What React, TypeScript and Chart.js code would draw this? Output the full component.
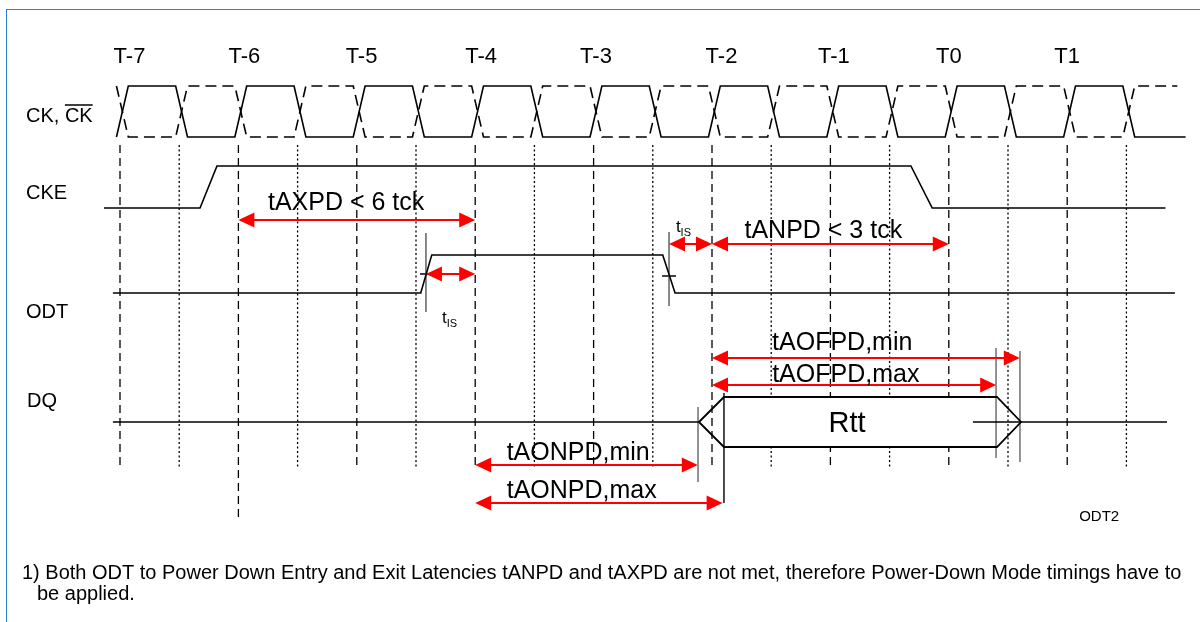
import React, { useEffect, useRef } from "react";
import { Chart, registerables } from "chart.js";

Chart.register(...registerables);

const FONT = "'Liberation Sans', Arial, Helvetica, sans-serif";
const RED = "#ff0000";

// ---------- data (time axis in clock cycles, T-7 = 0) ----------
const clockNames = ["T-7", "T-6", "T-5", "T-4", "T-3", "T-2", "T-1", "T0", "T1"];
const clockTimes = [0, 1, 2, 3, 4, 5, 6, 7, 8];
const clockNameTimes = [0.08, 1.05, 2.04, 3.05, 4.02, 5.08, 6.03, 7.0, 8.0];
const clockLineEnds = [468, 518, 468, 468, 468, 468, 468, 468, 468];
const halfTimes = [0.5, 1.5, 2.5, 3.5, 4.5, 5.5, 6.5, 7.5, 8.5];
const clockEdgeTimes = [0, 0.5, 1, 1.5, 2, 2.5, 3, 3.5, 4, 4.5, 5, 5.5, 6, 6.5, 7, 7.5, 8, 8.5];
const clockBeginTime = -0.03;
const ckEndTime = 9.0;
const ckBarEndTime = 8.93;

const ckeTimes = [-0.135, 0.676, 0.819, 6.68, 6.86, 8.83];
const ckeLevels = [0, 0, 1, 1, 0, 0];
const odtTimes = [-0.06, 2.54, 2.633, 4.584, 4.688, 8.91];
const odtLevels = [0, 0, 1, 1, 0, 0];
const dqHeadTimes = [-0.06, 4.89];
const rttTimes = [4.89, 5.101, 7.407, 7.61];
const dqTailTimes = [7.204, 8.843];

const signalNames = ["CK, ", "CKE", "ODT", "DQ"];
const signalBarName = "CK";

const arrowNames = ["tAXPD < 6 tck", "tANPD < 3 tck", "tAOFPD,min", "tAOFPD,max", "tAONPD,min", "tAONPD,max"];
const arrowStarts = [1, 5, 5, 5, 3, 3];
const arrowEnds = [3, 7, 7.6, 7.4, 4.88, 5.09];
const arrowNameTimes = [1.91, 5.94, 6.1, 6.13, 3.87, 3.9];

const tisStarts = [2.584, 4.637];
const tisEnds = [3, 5];
const tisNameTimes = [2.72, 4.695];

const markerTimes = [2.584, 4.637, 4.882, 5.101, 7.399, 7.601];
const tickMarkStarts = [2.534, 4.578];
const tickMarkEnds = [2.644, 4.696];

const rttName = "Rtt";
const rttNameTime = 6.14;
const figureId = "ODT2";
const figureIdTime = 8.27;
const noteLines = [
  "1) Both ODT to Power Down Entry and Exit Latencies tANPD and tAXPD are not met, therefore Power-Down Mode timings have to",
  "be applied.",
];
const noteTimes = [-0.828, -0.701];

// ---------- layout (rows on the vertical scale) ----------
const CK_HI = 86, CK_LO = 137;
const CKE_HI = 166, CKE_LO = 208;
const ODT_HI = 255, ODT_LO = 293;
const DQ_MID = 422, DQ_HALF = 25;
const GRID_TOP = 145;
const EDGE_PRE = -0.03, EDGE_POST = 0.07;
const arrowRows = [220, 244, 358, 385, 465, 503];
const arrowNameRows = [203, 231, 343, 375, 453, 491];
const tisRows = [274, 244];
const tisNameRows = [323, 232];
const markerTops = [233, 232, 407, 393, 348, 351];
const markerBottoms = [312, 306, 482, 503, 458, 462];
const markerColors = ["#555", "#555", "#666", "#000", "#666", "#666"];
const tickMarkRows = [274, 276];
const signalNameTime = -0.794;
const signalNameRows = [116, 193, 312, 401];
const X_MIN = -120 / 118.4;
const X_MAX = 1080 / 118.4;

function clockPoints(startLevel: number, endTime: number) {
  const row = (l: number) => (l ? CK_HI : CK_LO);
  const pts: { x: number; y: number }[] = [{ x: clockBeginTime, y: row(startLevel) }];
  let lvl = startLevel;
  clockEdgeTimes.forEach((e) => {
    pts.push({ x: e + EDGE_PRE, y: row(lvl) });
    lvl = 1 - lvl;
    pts.push({ x: e + EDGE_POST, y: row(lvl) });
  });
  pts.push({ x: endTime, y: row(lvl) });
  return pts;
}

function levelPoints(times: number[], levels: number[], hi: number, lo: number) {
  return times.map((t, i) => ({ x: t, y: levels[i] ? hi : lo }));
}

function line(data: any[], color: string, width: number, dash: number[] = [], order = 0, extra: any = {}) {
  return {
    data,
    borderColor: color,
    borderWidth: width,
    borderDash: dash,
    pointRadius: 0,
    tension: 0,
    fill: false,
    order,
    ...extra,
  };
}

function drawArrow(ctx: CanvasRenderingContext2D, a: number, b: number, yy: number) {
  const L = 16, H = 7.5;
  ctx.strokeStyle = RED;
  ctx.lineWidth = 2;
  ctx.beginPath();
  ctx.moveTo(a + 4, yy);
  ctx.lineTo(b - 4, yy);
  ctx.stroke();
  ctx.fillStyle = RED;
  ctx.beginPath();
  ctx.moveTo(a, yy);
  ctx.lineTo(a + L, yy - H);
  ctx.lineTo(a + L, yy + H);
  ctx.closePath();
  ctx.fill();
  ctx.beginPath();
  ctx.moveTo(b, yy);
  ctx.lineTo(b - L, yy - H);
  ctx.lineTo(b - L, yy + H);
  ctx.closePath();
  ctx.fill();
}

const annotPlugin = {
  id: "timingAnnotations",
  afterDatasetsDraw(chart: any) {
    const { ctx } = chart;
    const xs = chart.scales.x;
    const ys = chart.scales.y;
    const px = (v: number) => xs.getPixelForValue(v);
    const py = (v: number) => ys.getPixelForValue(v);
    ctx.save();

    // arrows
    arrowStarts.forEach((s, i) => drawArrow(ctx, px(s), px(arrowEnds[i]), py(arrowRows[i])));
    tisStarts.forEach((s, i) => drawArrow(ctx, px(s), px(tisEnds[i]), py(tisRows[i])));

    ctx.fillStyle = "#000";
    ctx.textBaseline = "middle";

    // clock names
    ctx.font = `22px ${FONT}`;
    ctx.textAlign = "center";
    clockNames.forEach((n, i) => ctx.fillText(n, px(clockNameTimes[i]), py(57)));

    // arrow names
    ctx.font = `25px ${FONT}`;
    arrowNames.forEach((n, i) => ctx.fillText(n, px(arrowNameTimes[i]), py(arrowNameRows[i])));

    // Rtt
    ctx.font = `29px ${FONT}`;
    ctx.fillText(rttName, px(rttNameTime), py(DQ_MID + 2));

    // figure id
    ctx.font = `15px ${FONT}`;
    ctx.fillText(figureId, px(figureIdTime), py(517));

    // tIS labels
    ctx.textAlign = "left";
    ctx.textBaseline = "alphabetic";
    tisNameTimes.forEach((t, i) => {
      const x0 = px(t);
      const y0 = py(tisNameRows[i]);
      ctx.font = `17px ${FONT}`;
      ctx.fillText("t", x0, y0);
      const w = ctx.measureText("t").width;
      ctx.font = `11px ${FONT}`;
      ctx.fillText("IS", x0 + w, y0 + 4);
    });

    // signal names
    ctx.textBaseline = "middle";
    ctx.font = `20px ${FONT}`;
    signalNames.forEach((n, i) => {
      const x0 = px(signalNameTime) + (i === 3 ? 1 : 0);
      const y0 = py(signalNameRows[i]);
      ctx.fillText(n, x0, y0);
      if (i === 0) {
        const w0 = ctx.measureText(n).width;
        ctx.fillText(signalBarName, x0 + w0, y0);
        const w1 = ctx.measureText(signalBarName).width;
        ctx.strokeStyle = "#000";
        ctx.lineWidth = 1.5;
        ctx.beginPath();
        ctx.moveTo(x0 + w0, y0 - 11);
        ctx.lineTo(x0 + w0 + w1, y0 - 11);
        ctx.stroke();
      }
    });

    // footnote
    ctx.font = `20px ${FONT}`;
    noteLines.forEach((n, i) => ctx.fillText(n, px(noteTimes[i]), py(573 + i * 21)));

    ctx.restore();
  },
};

export default function App() {
  const ref = useRef<HTMLCanvasElement | null>(null);

  useEffect(() => {
    if (!ref.current) return;
    const datasets: any[] = [];

    // clock grid lines
    clockTimes.forEach((t, i) => {
      datasets.push(line([{ x: t, y: GRID_TOP }, { x: t, y: clockLineEnds[i] }], "#000", 1.3, [8, 5], 10));
    });
    halfTimes.forEach((t) => {
      datasets.push(line([{ x: t, y: GRID_TOP }, { x: t, y: 468 }], "#000", 1.3, [2, 2.5], 10));
    });

    // Rtt white body (masks grid lines)
    datasets.push(
      line([{ x: rttTimes[1], y: DQ_MID - DQ_HALF }, { x: rttTimes[2], y: DQ_MID - DQ_HALF }], "rgba(0,0,0,0)", 0, [], 5, {
        fill: "+1",
        backgroundColor: "#ffffff",
      })
    );
    datasets.push(
      line([{ x: rttTimes[1], y: DQ_MID + DQ_HALF }, { x: rttTimes[2], y: DQ_MID + DQ_HALF }], "rgba(0,0,0,0)", 0, [], 5)
    );

    // clocks
    datasets.push(line(clockPoints(0, ckEndTime), "#000", 1.6));
    datasets.push(line(clockPoints(1, ckBarEndTime), "#000", 1.6, [11, 6]));

    // CKE, ODT
    datasets.push(line(levelPoints(ckeTimes, ckeLevels, CKE_HI, CKE_LO), "#000", 1.6));
    datasets.push(line(levelPoints(odtTimes, odtLevels, ODT_HI, ODT_LO), "#000", 1.6));

    // DQ
    datasets.push(line(dqHeadTimes.map((t) => ({ x: t, y: DQ_MID })), "#000", 1.6));
    datasets.push(
      line(
        [
          { x: rttTimes[0], y: DQ_MID },
          { x: rttTimes[1], y: DQ_MID - DQ_HALF },
          { x: rttTimes[2], y: DQ_MID - DQ_HALF },
          { x: rttTimes[3], y: DQ_MID },
          { x: rttTimes[2], y: DQ_MID + DQ_HALF },
          { x: rttTimes[1], y: DQ_MID + DQ_HALF },
          { x: rttTimes[0], y: DQ_MID },
        ],
        "#000",
        1.8
      )
    );
    datasets.push(line(dqTailTimes.map((t) => ({ x: t, y: DQ_MID })), "#000", 1.6));

    // markers
    markerTimes.forEach((t, i) => {
      datasets.push(line([{ x: t, y: markerTops[i] }, { x: t, y: markerBottoms[i] }], markerColors[i], 1.4));
    });
    tickMarkStarts.forEach((s, i) => {
      datasets.push(line([{ x: s, y: tickMarkRows[i] }, { x: tickMarkEnds[i], y: tickMarkRows[i] }], "#000", 1.5));
    });

    const chart = new Chart(ref.current, {
      type: "line",
      data: { datasets },
      options: {
        animation: false,
        responsive: false,
        devicePixelRatio: 1,
        events: [],
        layout: { padding: 0 },
        parsing: true,
        plugins: { legend: { display: false }, tooltip: { enabled: false }, filler: { propagate: false } },
        scales: {
          x: { type: "linear", min: X_MIN, max: X_MAX, display: false },
          y: { type: "linear", min: 0, max: 622, reverse: true, display: false },
        },
      } as any,
      plugins: [annotPlugin],
    });
    return () => chart.destroy();
  }, []);

  return (
    <div style={{ position: "fixed", left: 0, top: 0, width: 1200, height: 622, background: "#fff", overflow: "hidden" }}>
      <canvas ref={ref} width={1200} height={622} style={{ display: "block", position: "absolute", left: 0, top: 0 }} />
      <div
        style={{
          position: "absolute",
          left: 6,
          top: 9,
          width: 1200,
          height: 640,
          borderLeft: "1.5px solid #2a7fd6",
          borderTop: "1.5px solid #2a7fd6",
          pointerEvents: "none",
        }}
      />
    </div>
  );
}
